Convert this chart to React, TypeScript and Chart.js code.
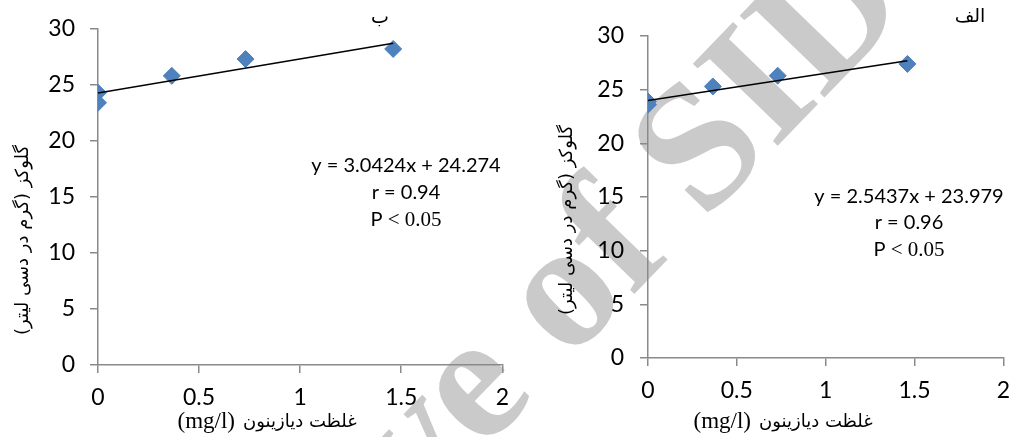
import React, { useEffect, useRef } from "react";
import { Chart, registerables } from "chart.js";

Chart.register(...registerables);

// ---- data ----
const concentrationsB = [0, 0, 0.365, 0.73, 1.46];
const glucoseB = [24.3, 23.4, 25.8, 27.3, 28.2];
const concentrationsA = [0, 0, 0.365, 0.73, 1.46];
const glucoseA = [23.6, 23.9, 25.3, 26.3, 27.4];
const panelLabels = ["ب", "الف"];
const slopes = [3.0424, 2.5437];
const intercepts = [24.274, 23.979];
const equationTexts = ["y = 3.0424x + 24.274", "y = 2.5437x + 23.979"];
const rTexts = ["r = 0.94", "r = 0.96"];
const pTextParts = ["P ", "< 0.05"];
const yTitleText = "گلوکز (گرم در دسی لیتر)";
const xTitleFa = "غلظت دیازینون";
const xTitleUnit = "(mg/l)";
const xRange = [0, 2];
const xStep = 0.5;
const yRange = [0, 30];
const yStep = 5;
const watermarkText = "Archive of SID";

const seriesX = [concentrationsB, concentrationsA];
const seriesY = [glucoseB, glucoseA];

// ---- styles / layout ----
const AXIS_COLOR = "#8a8a8a";
const MARKER_COLOR = "#4F81BD";
const SANS = "Lato";
const ARABIC = "'DejaVu Sans'";
const SERIF = "'Liberation Serif'";

const LAYOUTS = [
  {
    offsetX: 0, width: 520,
    pad: { left: 0, right: 17, top: 28, bottom: 12 },
    yWidth: 98, xHeight: 60, yTickPad: 15,
    yTitle: { x: 23, y: 240 }, xTitle: { split: 239, y: 422 },
    label: { x: 380, y: 18 }, ann: { x: 406, y: [166, 193, 220] },
  },
  {
    offsetX: 520, width: 501,
    pad: { left: 0, right: 8, top: 36, bottom: 19 },
    yWidth: 128, xHeight: 60, yTickPad: 16,
    yTitle: { x: 47, y: 220 }, xTitle: { split: 235, y: 422 },
    label: { x: 450, y: 17 }, ann: { x: 389, y: [197, 223, 250] },
  },
];

const HEIGHT = 437;

function drawWatermark(ctx: CanvasRenderingContext2D, offsetX: number) {
  ctx.save();
  ctx.translate(-offsetX, 0);
  ctx.translate(116, 831);
  ctx.rotate((-46 * Math.PI) / 180);
  ctx.font = `bold 180px ${SERIF}`;
  ctx.fillStyle = "#cacaca";
  ctx.textBaseline = "alphabetic";
  ctx.textAlign = "left";
  ctx.fillText(watermarkText, 0, 0);
  ctx.restore();
}

function Panel({ index }: { index: number }) {
  const ref = useRef<HTMLCanvasElement | null>(null);
  const L = LAYOUTS[index];

  useEffect(() => {
    if (!ref.current) return;
    const xs = seriesX[index];
    const ys = seriesY[index];
    const pts = xs.map((x, i) => ({ x, y: ys[i] }));
    const xLo = Math.min(...xs);
    const xHi = Math.max(...xs);
    const m = slopes[index];
    const b = intercepts[index];
    const trend = [
      { x: xLo, y: m * xLo + b },
      { x: xHi, y: m * xHi + b },
    ];

    const plugin = {
      id: "decor" + index,
      beforeDraw(chart: any) {
        drawWatermark(chart.ctx, L.offsetX);
      },
      afterDraw(chart: any) {
        const ctx: CanvasRenderingContext2D = chart.ctx;
        ctx.save();
        ctx.fillStyle = "#000";
        ctx.textBaseline = "middle";

        // panel label
        ctx.font = `19px ${ARABIC}`;
        ctx.textAlign = "center";
        (ctx as any).direction = "rtl";
        ctx.fillText(panelLabels[index], L.label.x, L.label.y);

        // y title
        ctx.save();
        ctx.translate(L.yTitle.x, L.yTitle.y);
        ctx.rotate(-Math.PI / 2);
        ctx.font = `18px ${ARABIC}`;
        ctx.textAlign = "center";
        (ctx as any).direction = "rtl";
        ctx.fillText(yTitleText, 0, 0);
        ctx.restore();

        // x title
        (ctx as any).direction = "ltr";
        ctx.font = `18px ${ARABIC}`;
        ctx.textAlign = "left";
        ctx.fillText(xTitleFa, L.xTitle.split + 4, L.xTitle.y);
        ctx.font = `23px ${SERIF}`;
        ctx.textAlign = "right";
        ctx.fillText(xTitleUnit, L.xTitle.split - 4, L.xTitle.y);

        // annotation
        ctx.textAlign = "center";
        ctx.font = `20px ${SANS}`;
        ctx.fillText(equationTexts[index], L.ann.x, L.ann.y[0]);
        ctx.fillText(rTexts[index], L.ann.x, L.ann.y[1]);
        ctx.font = `20px ${SANS}`;
        const w1 = ctx.measureText(pTextParts[0]).width;
        ctx.font = `21px ${SERIF}`;
        const w2 = ctx.measureText(pTextParts[1]).width;
        const start = L.ann.x - (w1 + w2) / 2;
        ctx.textAlign = "left";
        ctx.font = `20px ${SANS}`;
        ctx.fillText(pTextParts[0], start, L.ann.y[2]);
        ctx.font = `21px ${SERIF}`;
        ctx.fillText(pTextParts[1], start + w1, L.ann.y[2]);
        ctx.restore();
      },
    };

    const chart = new Chart(ref.current, {
      type: "scatter",
      data: {
        datasets: [
          {
            type: "line",
            data: trend,
            borderColor: "#000",
            borderWidth: 1.5,
            pointRadius: 0,
            fill: false,
            order: 0,
          } as any,
          {
            type: "scatter",
            data: pts,
            backgroundColor: MARKER_COLOR,
            borderColor: MARKER_COLOR,
            borderWidth: 1,
            pointStyle: "rectRot",
            pointRadius: 8.5,
            order: 1,
          },
        ],
      },
      options: {
        animation: false,
        responsive: false,
        maintainAspectRatio: false,
        layout: { padding: L.pad },
        plugins: { legend: { display: false }, tooltip: { enabled: false } },
        scales: {
          x: {
            type: "linear",
            min: xRange[0],
            max: xRange[1],
            ticks: {
              stepSize: xStep,
              color: "#000",
              font: { family: SANS, size: 23 },
              padding: 11,
              callback: (v: any) => `${+v}`,
            },
            grid: {
              display: true,
              drawOnChartArea: false,
              drawTicks: true,
              tickLength: 8,
              color: AXIS_COLOR,
              lineWidth: 1.5,
            },
            border: { display: true, color: AXIS_COLOR, width: 1.5 },
            afterFit: (s: any) => {
              s.height = L.xHeight;
            },
          },
          y: {
            type: "linear",
            min: yRange[0],
            max: yRange[1],
            ticks: {
              stepSize: yStep,
              color: "#000",
              font: { family: SANS, size: 23 },
              padding: L.yTickPad,
              callback: (v: any) => `${+v}`,
            },
            grid: {
              display: true,
              drawOnChartArea: false,
              drawTicks: true,
              tickLength: 8,
              color: AXIS_COLOR,
              lineWidth: 1.5,
            },
            border: { display: true, color: AXIS_COLOR, width: 1.5 },
            afterFit: (s: any) => {
              s.width = L.yWidth;
            },
          },
        },
      },
      plugins: [plugin],
    });
    return () => chart.destroy();
  }, [index]);

  return (
    <canvas
      ref={ref}
      width={L.width}
      height={HEIGHT}
      style={{
        position: "absolute",
        left: L.offsetX,
        top: 0,
        width: L.width,
        height: HEIGHT,
        display: "block",
      }}
    />
  );
}

export default function App() {
  return (
    <div
      style={{
        position: "absolute",
        left: 0,
        top: 0,
        width: 1021,
        height: HEIGHT,
        background: "#fff",
        overflow: "hidden",
      }}
    >
      <Panel index={0} />
      <Panel index={1} />
    </div>
  );
}
